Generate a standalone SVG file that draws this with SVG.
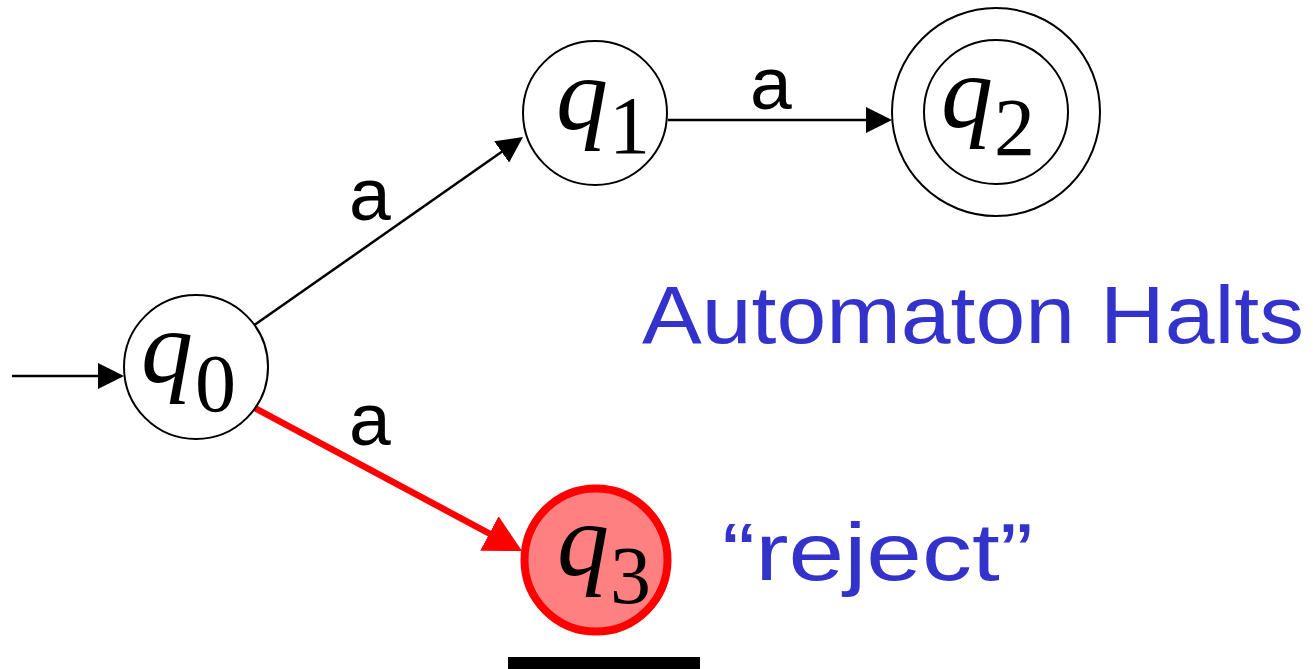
<svg xmlns="http://www.w3.org/2000/svg" width="1313" height="669" viewBox="0 0 1313 669">
  <style>
    .state { fill: #ffffff; stroke: #000000; stroke-width: 2; }
    .reject { fill: #FF8080; stroke: #FF0000; stroke-width: 8; }
    .q { font-family: "Liberation Serif", "Times New Roman", serif; font-style: italic; font-size: 104px; fill: #000000; }
    .sub { font-family: "Liberation Serif", "Times New Roman", serif; font-size: 82px; fill: #000000; }
    .edge { fill: none; stroke: #000000; stroke-width: 2.5; }
    .edge-red { fill: none; stroke: #FF0000; stroke-width: 6.5; }
    .lbl { font-family: "Liberation Sans", Arial, sans-serif; font-size: 75px; fill: #000000; }
    .note { font-family: "Liberation Sans", Arial, sans-serif; font-size: 82px; fill: #3333CC; }
  </style>
  <defs>
    <marker id="arrow" markerUnits="userSpaceOnUse" markerWidth="26" markerHeight="26" refX="23" refY="13" orient="auto" viewBox="0 0 26 26">
      <path d="M0,0 L26,13 L0,26 z" fill="#000000"/>
    </marker>
    <marker id="arrow-red" markerUnits="userSpaceOnUse" markerWidth="38" markerHeight="40" refX="27" refY="20" orient="auto" viewBox="0 0 38 40">
      <path d="M0,0.5 L37,20 L0,39.5 z" fill="#FF0000"/>
    </marker>
  </defs>

  <g id="connectors">
    <line class="edge" x1="12" y1="376" x2="121" y2="376" marker-end="url(#arrow)"/>
    <line class="edge" x1="253" y1="326" x2="520.5" y2="138.7" marker-end="url(#arrow)"/>
    <line class="edge" x1="668" y1="120" x2="889" y2="120" marker-end="url(#arrow)"/>
    <line class="edge-red" x1="253" y1="407" x2="513.2" y2="546.3" marker-end="url(#arrow-red)"/>
    <text class="lbl" x="349" y="220">a</text>
    <text class="lbl" x="349" y="445">a</text>
    <text class="lbl" x="750" y="109">a</text>
  </g>

  <g id="q0">
    <circle class="state" cx="196" cy="367" r="72"/>
    <text class="q" x="141" y="382">q</text>
    <text class="sub" x="195" y="411">0</text>
  </g>

  <g id="q1">
    <circle class="state" cx="595" cy="113" r="72"/>
    <text class="q" x="556" y="129">q</text>
    <text class="sub" x="609" y="153">1</text>
  </g>

  <g id="q2">
    <circle class="state" cx="996" cy="112" r="104"/>
    <circle class="state" cx="996" cy="112" r="72"/>
    <text class="q" x="941" y="127">q</text>
    <text class="sub" x="994" y="155">2</text>
  </g>

  <g id="q3">
    <circle class="reject" cx="596" cy="560" r="71.5"/>
    <text class="q" x="557" y="575">q</text>
    <text class="sub" x="610" y="603">3</text>
  </g>

  <g id="annotations">
    <text class="note" x="642" y="343" textLength="662" lengthAdjust="spacingAndGlyphs">Automaton Halts</text>
    <text class="note" x="722" y="580" textLength="311" lengthAdjust="spacingAndGlyphs">“reject”</text>
    <rect x="508" y="657" width="192" height="12" fill="#000000"/>
  </g>
</svg>
